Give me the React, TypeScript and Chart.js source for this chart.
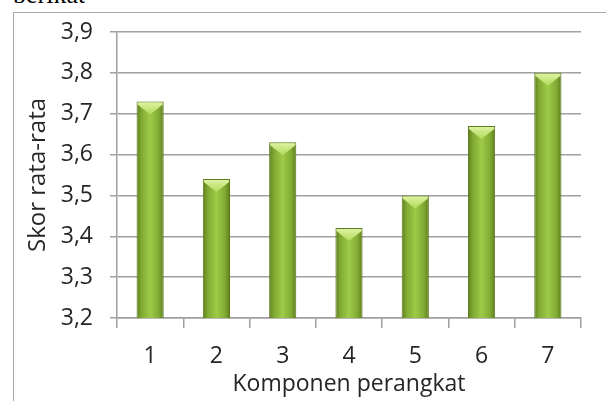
import React, { useEffect, useRef } from "react";
import { Chart, registerables } from "chart.js";

Chart.register(...registerables);

const categories = ["1", "2", "3", "4", "5", "6", "7"];
const scores = [3.73, 3.54, 3.63, 3.42, 3.5, 3.67, 3.8];
const yTickLabels = ["3,2", "3,3", "3,4", "3,5", "3,6", "3,7", "3,8", "3,9"];
const yMin = 3.2;
const yMax = 3.9;
const xTitle = "Komponen perangkat";
const yTitle = "Skor rata-rata";
const captionText = "berikat";

const BAR_PCT = 0.41;
const FONT = "'Open Sans', 'Noto Sans', sans-serif";
const TEXT = "#262626";
const GRID = "#a0a0a0";

const barDecor = {
  id: "barDecor",
  afterDatasetsDraw(chart: any) {
    const ctx = chart.ctx as CanvasRenderingContext2D;
    const meta = chart.getDatasetMeta(0);
    ctx.save();
    meta.data.forEach((el: any) => {
      const { x, y, width, base } = el.getProps(["x", "y", "width", "base"], true);
      const l = x - width / 2;
      const r = x + width / 2;
      // darker shade toward the bottom
      const g = ctx.createLinearGradient(0, base - 22, 0, base);
      g.addColorStop(0, "rgba(55,75,10,0)");
      g.addColorStop(1, "rgba(55,75,10,0.35)");
      ctx.fillStyle = g;
      ctx.fillRect(l + 1, base - 22, width - 2, 21);
      // bevelled light top
      const h = Math.min(13, base - y);
      ctx.beginPath();
      ctx.moveTo(l + 1, y + 1);
      ctx.lineTo(r - 1, y + 1);
      ctx.lineTo(r - 1, y + 3);
      ctx.lineTo(x, y + h);
      ctx.lineTo(l + 1, y + 3);
      ctx.closePath();
      const cg = ctx.createLinearGradient(0, y, 0, y + h);
      cg.addColorStop(0, "#dff4a6");
      cg.addColorStop(1, "#b2d95a");
      ctx.fillStyle = cg;
      ctx.fill();
    });
    ctx.restore();
  },
};

export default function App() {
  const canvasRef = useRef<HTMLCanvasElement | null>(null);

  useEffect(() => {
    document.body.style.margin = "0";
    const canvas = canvasRef.current;
    if (!canvas) return;
    const chart = new Chart(canvas, {
      type: "bar",
      data: {
        labels: categories,
        datasets: [
          {
            data: scores,
            barPercentage: BAR_PCT,
            categoryPercentage: 1,
            borderWidth: 1,
            borderColor: "#5c7a1e",
            borderSkipped: false,
            backgroundColor: (c: any) => {
              const ch = c.chart;
              const xs = ch.scales && ch.scales.x;
              if (!xs || !ch.chartArea || c.dataIndex == null) return "#8db33a";
              const cx = xs.getPixelForValue(c.dataIndex);
              const w = (xs.width / categories.length) * BAR_PCT;
              const gr = ch.ctx.createLinearGradient(cx - w / 2, 0, cx + w / 2, 0);
              gr.addColorStop(0, "#5f7f1e");
              gr.addColorStop(0.18, "#80aa33");
              gr.addColorStop(0.5, "#9ecb48");
              gr.addColorStop(0.82, "#80aa33");
              gr.addColorStop(1, "#5d7c1c");
              return gr;
            },
          },
        ],
      },
      options: {
        animation: false,
        responsive: true,
        maintainAspectRatio: false,
        devicePixelRatio: 1,
        layout: { padding: { top: 32, right: 25, left: 0, bottom: 0 } },
        plugins: {
          legend: { display: false },
          tooltip: { enabled: false },
        },
        scales: {
          x: {
            afterFit: (s: any) => {
              s.height = 83;
            },
            grid: {
              offset: true,
              drawOnChartArea: false,
              drawTicks: true,
              tickLength: 10,
              color: GRID,
              lineWidth: 1.5,
            },
            border: { display: true, color: GRID, width: 1.5 },
            ticks: {
              color: TEXT,
              font: { family: FONT, size: 23 },
              padding: 15,
            },
            title: {
              display: true,
              text: xTitle,
              color: TEXT,
              font: { family: FONT, size: 23 },
              padding: { top: 0, bottom: 3 },
            },
          },
          y: {
            min: yMin,
            max: yMax,
            afterFit: (s: any) => {
              s.width = 117;
            },
            ticks: {
              stepSize: 0.1,
              color: TEXT,
              font: { family: FONT, size: 23 },
              padding: 17,
              callback: (v: any) => {
                const i = Math.round((Number(v) - yMin) * 10);
                return yTickLabels[i] ?? "";
              },
            },
            grid: {
              color: GRID,
              lineWidth: 1.5,
              tickLength: 7,
            },
            border: { display: true, color: GRID, width: 1.5 },
            title: {
              display: true,
              text: yTitle,
              color: TEXT,
              font: { family: FONT, size: 24 },
              padding: { top: 24, bottom: 0 },
            },
          },
        },
      },
      plugins: [barDecor],
    });
    return () => chart.destroy();
  }, []);

  return (
    <div style={{ position: "relative", width: 606, height: 401, overflow: "hidden", background: "#fff" }}>
      <div
        style={{
          position: "absolute",
          left: 13,
          top: -18,
          fontFamily: "'Liberation Serif', 'Times New Roman', serif",
          fontSize: 26,
          lineHeight: 1,
          color: "#000",
          whiteSpace: "nowrap",
        }}
      >
        {captionText}
      </div>
      <div
        style={{
          position: "absolute",
          left: 13,
          top: 12,
          width: 620,
          height: 420,
          borderLeft: "1px solid #a8a8a8",
          borderTop: "1px solid #a8a8a8",
          boxSizing: "border-box",
        }}
      />
      <div style={{ position: "absolute", left: 0, top: 0, width: 606, height: 401 }}>
        <canvas ref={canvasRef} />
      </div>
    </div>
  );
}
